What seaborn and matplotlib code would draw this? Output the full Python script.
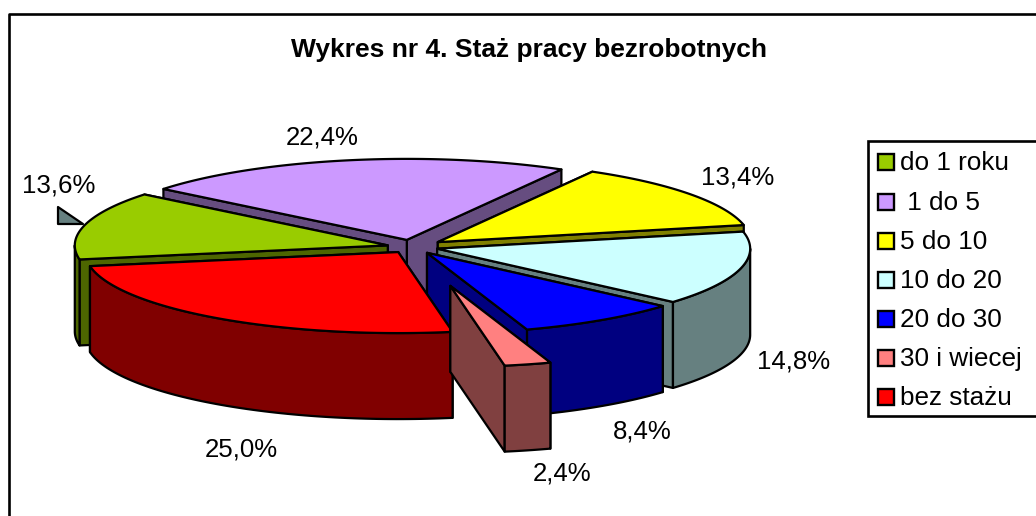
import numpy as np
import matplotlib
matplotlib.use("Agg")
import matplotlib.pyplot as plt
from matplotlib.patches import Polygon, Rectangle
import seaborn as sns

# data
categories = ["do 1 roku", " 1 do 5", "5 do 10", "10 do 20", "20 do 30", "30 i wiecej", "bez stażu"]
shares = [13.6, 22.4, 13.4, 14.8, 8.4, 2.4, 25.0]
share_labels = ["13,6%", "22,4%", "13,4%", "14,8%", "8,4%", "2,4%", "25,0%"]
title = "Wykres nr 4. Staż pracy bezrobotnych"

colors = sns.color_palette(["#99CC00", "#CC99FF", "#FFFF00", "#CCFFFF", "#0000FF", "#FF8080", "#FF0000"])
explode = [25, 28, 32, 26, 27, 155, 24]
label_pos = [(59, 185), (322, 137), (738, 178), (794, 361), (642, 431), (562, 474), (241, 450)]
draw_order = [1, 2, 3, 0, 4, 6, 5]

# pie geometry in pixels
cx, cy = 412, 247
rx, ry = 313, 81
depth = 86
start_angle = 260
lw = 1.6

sns.set_theme(style="white")
plt.rcParams['font.family'] = ['Liberation Sans', 'DejaVu Sans']

fig = plt.figure(figsize=(10.36, 5.16), dpi=100)
ax = fig.add_axes([0, 0, 1, 1])
ax.set_xlim(0, 1036)
ax.set_ylim(516, 0)
ax.axis("off")


def rim(x0, y0, a, b, drop=0):
    t = np.radians(np.linspace(a, b, 80))
    return np.column_stack([x0 + rx * np.sin(t), y0 - ry * np.cos(t) + drop])


def poly(points, color, z):
    ax.add_patch(Polygon(points, closed=True, facecolor=color, edgecolor="black",
                         linewidth=lw, joinstyle="round", zorder=z))


# slice edges clockwise from the top
edges = start_angle + np.concatenate([[0], np.cumsum(shares)]) * 3.6

z = 2
for i in draw_order:
    a, b = edges[i], edges[i + 1]
    mid = np.radians((a + b) / 2)
    x0 = cx + explode[i] * np.sin(mid)
    y0 = cy - explode[i] * np.cos(mid) * ry / rx
    side = tuple(np.array(colors[i]) * 0.5)
    tip = np.array([x0, y0])
    # radial walls, the one further back first
    ends = sorted([rim(x0, y0, a, a)[0], rim(x0, y0, b, b)[0]], key=lambda p: p[1])
    for p in ends:
        poly([tip, p, p + [0, depth], tip + [0, depth]], side, z)
        z += 1
    # outer wall, only the front half of the pie shows it
    for shift in (0, 360):
        lo, hi = max(a - shift, 90), min(b - shift, 270)
        if lo < hi:
            poly(np.vstack([rim(x0, y0, lo, hi), rim(x0, y0, hi, lo, depth)]), side, z)
            z += 1
    poly(np.vstack([tip, rim(x0, y0, a, b)]), colors[i], z)
    z += 1

# stray leader mark next to the 13,6% label
poly([(58, 207), (58, 224), (83, 224)], "#668080", 1)

for text, (x, y) in zip(share_labels, label_pos):
    ax.text(x, y, text, ha="center", va="center", fontsize=18.6, color="black", zorder=100)

ax.text(529, 50, title, ha="center", va="center", fontsize=19, fontweight="bold", color="black")

# chart frame
ax.plot([9, 9, 1040], [520, 14, 14], color="black", lw=1.9, clip_on=False, zorder=101)

# legend
ax.add_patch(Rectangle((868, 141), 180, 275, facecolor="white", edgecolor="black", linewidth=1.9, zorder=101))
legend_y = [162, 202, 241, 280, 319, 358, 397]
for name, col, y in zip(categories, colors, legend_y):
    ax.add_patch(Rectangle((878, y - 8), 16, 16, facecolor=col, edgecolor="black", linewidth=1.7, zorder=102))
    ax.text(900, y + 1, name, ha="left", va="center", fontsize=18.8, color="black", zorder=102)

fig.savefig("out.png", dpi=100)
